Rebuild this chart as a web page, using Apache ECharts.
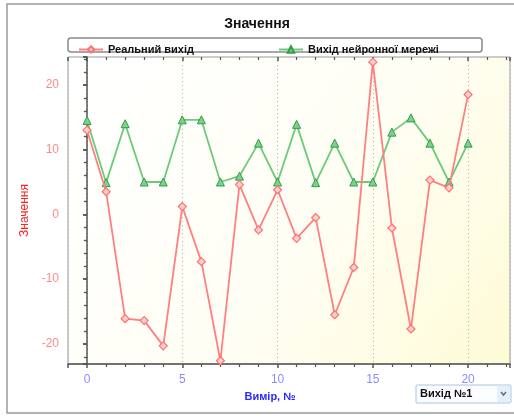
<!DOCTYPE html>
<html><head><meta charset="utf-8">
<script src="https://cdn.jsdelivr.net/npm/echarts@6/dist/echarts.min.js"></script>
<style>html,body{margin:0;padding:0;background:#fff;}#c{width:514px;height:416px;}</style>
</head><body><div id="c"></div>
<script>
const xValues = [0,1,2,3,4,5,6,7,8,9,10,11,12,13,14,15,16,17,18,19,20];
const realOutput = [13,3.5,-16.1,-16.4,-20.3,1.2,-7.3,-22.6,4.6,-2.4,3.8,-3.7,-0.5,-15.5,-8.2,23.5,-2.1,-17.7,5.3,4.1,18.5];
const netOutput = [14.5,4.9,14,5,5,14.6,14.6,5,5.9,11,5,13.9,4.9,11,5,5,12.7,14.9,11,5,11];
const seriesNames = ['Реальний вихід','Вихід нейронної мережі'];
const titleText = 'Значення';
const yAxisName = 'Значення';
const xAxisName = 'Вимір, №';
const dropdownText = 'Вихід №1';

const chart = echarts.init(document.getElementById('c'), null, {renderer:'canvas'});
const pairs = (ys) => xValues.map((x,i)=>[x, ys[i]]);
const font = 'Liberation Sans, Arial, sans-serif';
const X_MIN=-1, X_MAX=22.2, Y_MIN=-23.1, Y_MAX=24.3;
const axisCol = '#555';

function yAx(inside, show){
  return {
    type:'value', min:Y_MIN, max:Y_MAX, splitNumber:5,
    name: show? yAxisName : '', nameLocation:'middle', nameGap:34, nameRotate:90,
    nameTextStyle:{color:'#ff2020', fontSize:12, fontFamily:font},
    axisLine:{show:show, lineStyle:{color:axisCol, width:1.5}},
    axisTick:{show:true, inside:inside, length:4, lineStyle:{color:axisCol, width:1.5}},
    minorTick:{show:true, splitNumber:5, length:3, lineStyle:{color:axisCol, width:1.2}},
    axisLabel:{show:show, color:'#ff8a8a', fontSize:12, fontFamily:font, margin:9,
      formatter:(v)=> (Math.abs(v%10)<1e-9 ? String(v) : '')},
    splitLine:{show:false}, minorSplitLine:{show:false}
  };
}
function xAx(inside, show){
  return {
    type:'value', min:X_MIN, max:X_MAX, splitNumber:5,
    name: show? xAxisName : '', nameLocation:'middle', nameGap:27,
    nameTextStyle:{color:'#2a2aff', fontSize:11, fontWeight:'bold', fontFamily:font, padding:[0,38,0,0]},
    axisLine:{show:show, onZero:false, lineStyle:{color:axisCol, width:1.5}},
    axisTick:{show:true, inside:inside, length:4, lineStyle:{color:axisCol, width:1.5}},
    minorTick:{show:true, splitNumber:5, length:3, lineStyle:{color:axisCol, width:1.2}},
    axisLabel:{show:show, color:'#8c8cff', fontSize:12, fontFamily:font, margin:10,
      formatter:(v)=> (Math.abs(v%5)<1e-9 ? String(v) : '')},
    splitLine:{show:show, lineStyle:{color:'#b0b0b0', type:[1,3], width:1}},
    minorSplitLine:{show:false}
  };
}

chart.setOption({
  animation:false,
  backgroundColor:'#ffffff',
  title:{text:titleText, left:'center', top:12, textStyle:{fontSize:14, fontWeight:'bold', color:'#111', fontFamily:font}},
  legend:{
    left:73, top:39, itemWidth:24, itemHeight:8, itemGap:84,
    textStyle:{fontSize:11, fontWeight:'bold', color:'#111', fontFamily:font},
    data: seriesNames
  },
  grid:{
    left:68, top:57, right:4, bottom:52, show:true,
    borderColor:'#999', borderWidth:1,
    backgroundColor:{type:'linear', x:0, y:0, x2:1, y2:1, colorStops:[
      {offset:0, color:'#ffffff'}, {offset:0.55, color:'#fffef4'}, {offset:1, color:'#fefbd6'}]}
  },
  xAxis:[xAx(false,true), xAx(true,false)],
  yAxis:[yAx(false,true), yAx(true,false)],
  graphic:[
    {type:'rect', shape:{x:7, y:4, width:520, height:409}, style:{fill:'none', stroke:'#9a9a9a', lineWidth:1.5}, z:-10},
    {type:'rect', shape:{x:68, y:38, width:414, height:14, r:3}, style:{fill:'none', stroke:'#8a8a8a', lineWidth:1.5}, z:-5},
    {type:'rect', shape:{x:416, y:385, width:95, height:18, r:1}, style:{fill:'#fbfdff', stroke:'#a9c4e6', lineWidth:1}},
    {type:'rect', shape:{x:497, y:386, width:13, height:16}, style:{fill:'#e6eef8', stroke:'none'}},
    {type:'polyline', shape:{points:[[501,392],[503.5,395],[506,392]]}, style:{stroke:'#5a6f98', lineWidth:1.5, fill:'none'}},
    {type:'text', x:420, y:394, style:{text:dropdownText, font:'bold 11px '+font, fill:'#111', textVerticalAlign:'middle'}}
  ],
  series:[
    {name:seriesNames[0], type:'line', data:pairs(realOutput), xAxisIndex:0, yAxisIndex:0,
     symbol:'diamond', symbolSize:8,
     lineStyle:{color:'#ff8080', width:1.8},
     itemStyle:{color:'#ffd0d0', borderColor:'#ff7070', borderWidth:1.2}, z:3},
    {name:seriesNames[1], type:'line', data:pairs(netOutput), xAxisIndex:0, yAxisIndex:0,
     symbol:'triangle', symbolSize:8,
     lineStyle:{color:'#6ccb78', width:1.8},
     itemStyle:{color:'#7ed08a', borderColor:'#2f9e4a', borderWidth:1}, z:2}
  ]
});
</script></body></html>
